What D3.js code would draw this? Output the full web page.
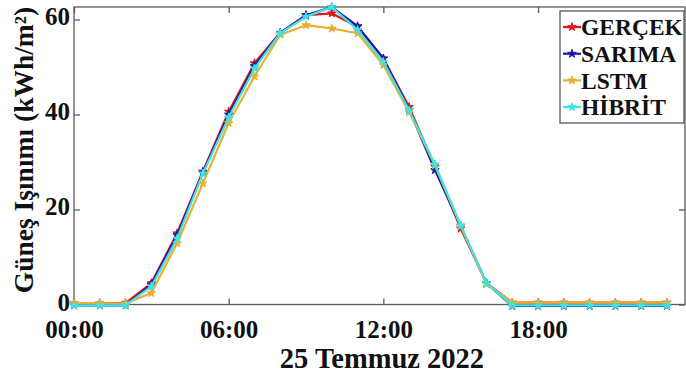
<!DOCTYPE html>
<html><head><meta charset="utf-8">
<script src="https://cdn.jsdelivr.net/npm/d3@7"></script>
<style>body{margin:0;background:#fff;} svg{display:block;}</style>
</head><body>
<svg id="c" width="686" height="381"></svg>
<script>
const hours = d3.range(0, 24);
const xTickValues = [0, 6, 12, 18];
const xTickLabels = ["00:00", "06:00", "12:00", "18:00"];
const yTickValues = [0, 20, 40, 60];
const seriesNames = ["GERÇEK", "SARIMA", "LSTM", "HİBRİT"];
const seriesColors = ["#e3151b", "#1a1aa8", "#e8b030", "#3fe3e3"];
const gercek = [0.3,0.3,0.3,4.5,15.0,28.0,40.6,50.8,57.2,60.9,61.3,58.4,51.8,41.6,29.0,16.0,4.5,0.4,0.4,0.4,0.4,0.4,0.4,0.4];
const sarima = [-0.2,-0.2,-0.2,4.2,14.6,27.8,40.0,50.2,57.2,60.9,62.6,58.6,51.8,41.0,28.3,16.5,4.5,-0.3,-0.3,-0.3,-0.3,-0.3,-0.3,-0.3];
const lstm   = [0.3,0.3,0.2,2.4,12.9,25.5,38.2,48.0,56.8,58.8,58.1,57.1,50.4,40.5,29.3,16.5,4.3,0.4,0.4,0.4,0.4,0.4,0.4,0.4];
const hibrit = [-0.2,-0.2,-0.2,3.8,13.9,27.6,39.4,49.7,57.1,60.6,62.6,57.8,51.1,40.9,29.5,16.7,4.5,-0.2,-0.2,-0.2,-0.2,-0.2,-0.2,-0.2];
const allSeries = [gercek, sarima, lstm, hibrit];

const svg = d3.select("#c");
const L = 74, R = 685, T = 7, B = 304.5;
const x = d3.scaleLinear().domain([0, 23.7]).range([L, R]);
const y = d3.scaleLinear().domain([0, 62.63]).range([B, T]);
const font = "'Liberation Serif', 'Times New Roman', serif";
const axisColor = "#5a5a5a";

// Box
svg.append("rect").attr("x", L).attr("y", T).attr("width", R - L).attr("height", B - T)
  .attr("fill", "none").attr("stroke", axisColor).attr("stroke-width", 1.3);

// axes via d3
const gxB = svg.append("g").attr("transform", `translate(0,${B})`)
  .call(d3.axisBottom(x).tickValues(xTickValues).tickSize(-6).tickPadding(16)
    .tickFormat((d, i) => xTickLabels[i]));
const gxT = svg.append("g").attr("transform", `translate(0,${T})`)
  .call(d3.axisTop(x).tickValues(xTickValues).tickSize(-6).tickFormat(""));
const gyL = svg.append("g").attr("transform", `translate(${L},0)`)
  .call(d3.axisLeft(y).tickValues(yTickValues).tickSize(-6).tickPadding(4));
const gyR = svg.append("g").attr("transform", `translate(${R},0)`)
  .call(d3.axisRight(y).tickValues(yTickValues).tickSize(-6).tickFormat(""));
[gxB, gxT, gyL, gyR].forEach(g => {
  g.select(".domain").remove();
  g.selectAll(".tick line").attr("stroke", axisColor).attr("stroke-width", 1.3);
  g.selectAll("text").attr("font-family", font).attr("font-weight", "bold")
    .attr("font-size", 25).attr("fill", "#111");
});
gyL.selectAll("text").attr("dy", "0.22em");

// lines
const line = d3.line().x((d, i) => x(hours[i])).y(d => y(d));
const star = d3.symbol().type(d3.symbolStar).size(22);
allSeries.forEach((s, k) => {
  svg.append("path").datum(s).attr("d", line).attr("fill", "none")
    .attr("stroke", seriesColors[k]).attr("stroke-width", 2.2).attr("stroke-linejoin", "round");
  svg.append("g").selectAll("path").data(s).join("path")
    .attr("d", star).attr("transform", (d, i) => `translate(${x(hours[i])},${y(d)})`)
    .attr("fill", seriesColors[k]).attr("stroke", seriesColors[k]).attr("stroke-width", 1);
});

// axis titles
svg.append("text").attr("x", 382).attr("y", 368).attr("text-anchor", "middle")
  .attr("font-family", font).attr("font-weight", "bold").attr("font-size", 28.5).attr("fill", "#111")
  .text("25 Temmuz 2022");
svg.append("text").attr("transform", "translate(33,150) rotate(-90)").attr("text-anchor", "middle")
  .attr("font-family", font).attr("font-weight", "bold").attr("font-size", 27.5).attr("fill", "#111")
  .text("Güneş Işınımı (kWh/m²)");

// legend
const lg = svg.append("g");
lg.append("rect").attr("x", 560).attr("y", 11).attr("width", 124).attr("height", 112)
  .attr("fill", "#fff").attr("stroke", axisColor).attr("stroke-width", 1.3);
seriesNames.forEach((n, k) => {
  const cy = 27 + k * 26.7;
  lg.append("line").attr("x1", 563).attr("x2", 581).attr("y1", cy).attr("y2", cy)
    .attr("stroke", seriesColors[k]).attr("stroke-width", 2.2);
  lg.append("path").attr("d", star).attr("transform", `translate(572,${cy})`)
    .attr("fill", seriesColors[k]).attr("stroke", seriesColors[k]);
  lg.append("text").attr("x", 581).attr("y", cy + 8.3).attr("font-family", font)
    .attr("font-weight", "bold").attr("font-size", 23.5).attr("fill", "#111").text(n);
});
</script>
</body></html>
